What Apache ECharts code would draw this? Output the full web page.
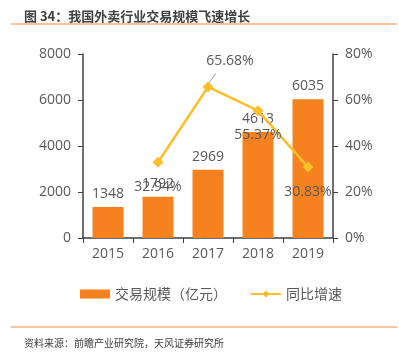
<!DOCTYPE html>
<html><head><meta charset="utf-8">
<script src="https://cdn.jsdelivr.net/npm/echarts@6/dist/echarts.min.js"></script>
<style>html,body{margin:0;padding:0;background:#fff}#c{width:399px;height:354px}</style>
</head><body><div id="c"></div>
<script>
var categories = ['2015','2016','2017','2018','2019'];
var volume = [1348, 1792, 2969, 4613, 6035];
var growth = [null, 32.94, 65.68, 55.37, 30.83];
var volumeName = '交易规模（亿元）';
var growthName = '同比增速';

var chart = echarts.init(document.getElementById('c'), null, {renderer:'canvas'});
var txt = '#595959';
var font = '"Open Sans","Noto Sans CJK SC",sans-serif';
chart.setOption({
  animation:false,
  textStyle:{fontFamily:font},
  title:[{text:'图 34：我国外卖行业交易规模飞速增长', left:19, top:5,
    textStyle:{fontSize:13, fontWeight:'bold', color:'#404040', fontFamily:'"Noto Sans CJK SC",sans-serif'}},
    {text:'资料来源：前瞻产业研究院，天风证券研究所', left:19, top:333,
    textStyle:{fontSize:10, fontWeight:'normal', color:'#404040', fontFamily:'"Noto Sans CJK SC",sans-serif'}}],
  legend:{top:282, left:75, itemGap:23, itemWidth:30, itemHeight:9,
    textStyle:{fontSize:14, color:txt, fontFamily:'"Noto Sans CJK SC",sans-serif'},
    data:[{name:volumeName, icon:'rect'}, {name:growthName}]},
  grid:{left:83, right:66, top:54, bottom:116},
  xAxis:{type:'category', data:categories,
    axisLine:{lineStyle:{color:'#404040', width:1.5}},
    axisTick:{show:true, length:5, lineStyle:{color:'#404040'}},
    axisLabel:{fontSize:14, color:txt, margin:9}},
  yAxis:[{type:'value', min:0, max:8000, interval:2000,
    axisLine:{show:true, lineStyle:{color:'#404040', width:1.5}},
    axisTick:{show:true, length:5, inside:false, lineStyle:{color:'#404040'}},
    splitLine:{show:false},
    axisLabel:{fontSize:14, color:txt, margin:12, formatter:function(v){return String(v);}}},
   {type:'value', min:0, max:80, interval:20,
    axisLine:{show:true, lineStyle:{color:'#404040', width:1.5}},
    axisTick:{show:true, length:5, lineStyle:{color:'#404040'}},
    splitLine:{show:false},
    axisLabel:{fontSize:14, color:txt, margin:12, formatter:'{value}%'}}],
  series:[
    {name:volumeName, type:'bar', data:volume, barWidth:31,
     itemStyle:{color:'#F5821F'},
     label:{show:true, position:'top', distance:6, fontSize:14, color:txt}},
    {name:growthName, type:'line', yAxisIndex:1, data:growth,
     symbol:'diamond', symbolSize:11, connectNulls:false,
     lineStyle:{color:'#FBBF2C', width:2.5},
     itemStyle:{color:'#FBBF2C'},
     label:{show:true, position:'bottom', distance:12, fontSize:14, color:txt,
       formatter:function(p){return p.value.toFixed(2)+'%';}},
     labelLayout:function(p){
       if(p.dataIndex===2){return {dy:-50, dx:22};}
       return {};
     }}
  ]
});
// leader line for the 2017 growth label, anchored on the data point via the library's scales
var pt = chart.convertToPixel({xAxisIndex:0, yAxisIndex:1}, [categories[2], growth[2]]);
chart.setOption({graphic:[
  {type:'line', shape:{x1:11,y1:24,x2:397,y2:24}, style:{stroke:'#F8B27A', lineWidth:1.5}},
  {type:'line', shape:{x1:11,y1:327,x2:397,y2:327}, style:{stroke:'#F8B27A', lineWidth:1.5}},
  {type:'line', z:1, shape:{x1:pt[0]+1, y1:pt[1]-4, x2:pt[0]+8, y2:pt[1]-14}, style:{stroke:'#A6A6A6', lineWidth:1}}
]});
</script></body></html>
